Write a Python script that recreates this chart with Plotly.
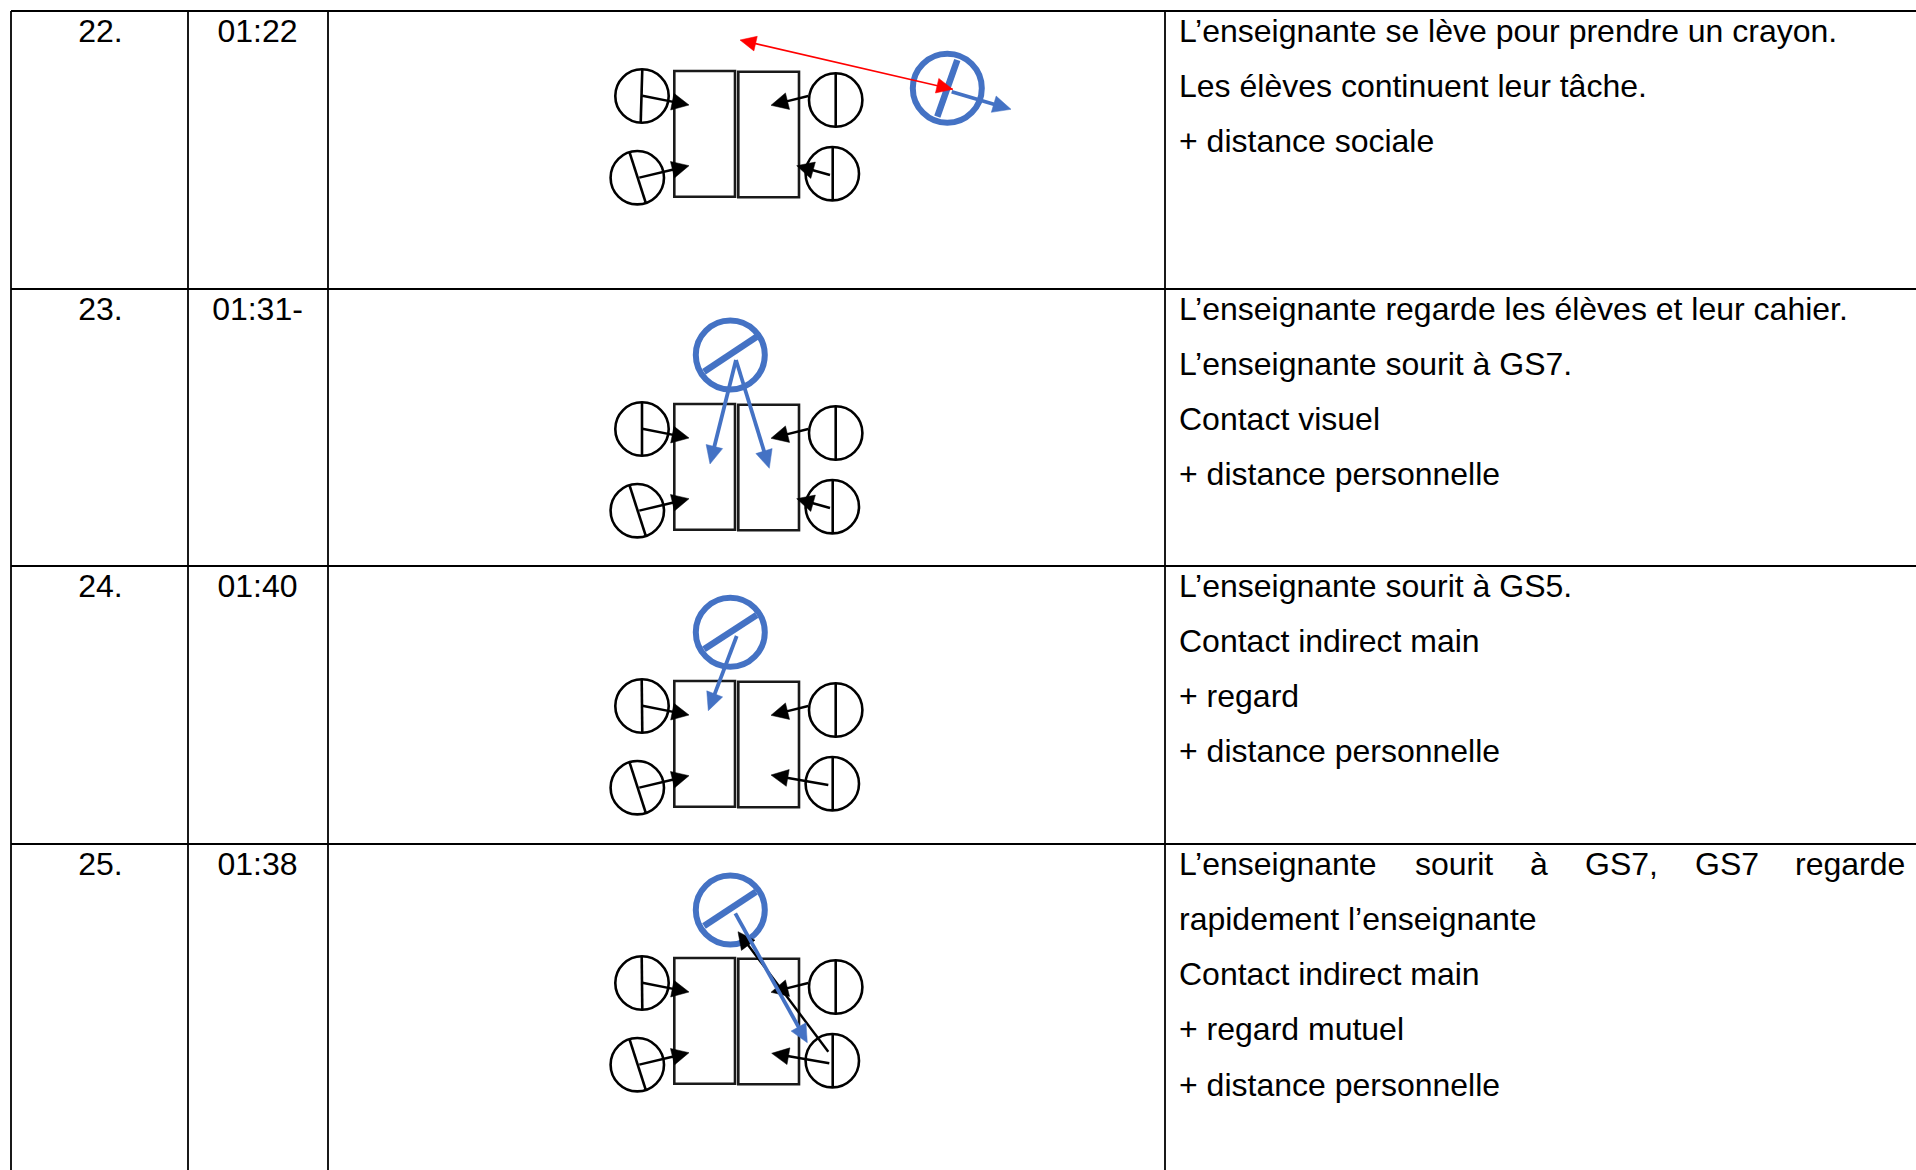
import plotly.graph_objects as go
import math

W, H = 1916, 1170
FONT = "Liberation Sans"
FS = 32
BLACK, BLUE, RED = "#000000", "#4472C4", "#FF0000"

# table structure
col_x = [11, 188, 328, 1165]
row_y = [11, 289, 566, 844]
numbers = ["22.", "01:22"], ["23.", "01:31-"], ["24.", "01:40"], ["25.", "01:38"]
col_centres = [100.5, 257.5]
text_x = 1179
line_pitch = 55.2
first_line_offset = 22.7
comments = [
    ["L’enseignante se lève pour prendre un crayon.", "Les élèves continuent leur tâche.", "+ distance sociale"],
    ["L’enseignante regarde les élèves et leur cahier.", "L’enseignante sourit à GS7.", "Contact visuel", "+ distance personnelle"],
    ["L’enseignante sourit à GS5.", "Contact indirect main", "+ regard", "+ distance personnelle"],
    ["", "rapidement l’enseignante", "Contact indirect main", "+ regard mutuel", "+ distance personnelle"],
]
justified_words = ["L’enseignante", "sourit", "à", "GS7,", "GS7", "regarde"]
justified_x = [1179, 1415, 1530, 1585, 1695, 1795]

# diagrams: offsets of each row from the first
diagram_dy = [0, 333, 610, 887]
tables = [(674.3, 71, 735, 196.7), (738.3, 71.7, 799, 197.3)]
student_r = 26.7
student_centres = [(642, 96), (637.3, 177.7), (835.7, 100), (832.3, 173.7)]
student_dividers = [
    [(642.3, 69), (640.7, 122.7)],
    [(629.3, 151.7), (645.7, 202.7)],
    [(835.7, 73.3), (835.7, 127.3)],
    [(832.7, 147), (832.7, 201)],
]
tl_divider_by_row = [(642.3, 640.7), (642, 642), (641.7, 642.3), (641.7, 642.3)]
base_arrows = [
    [(642.3, 95.7), (689, 105)],
    [(639.3, 177.7), (689, 165.7)],
    [(808.3, 96), (771, 105.3)],
]
br_arrows = [
    [(830, 175), (796.7, 165.7)],
    [(830, 175), (796.7, 165.7)],
    [(828.3, 175), (771, 165)],
    [(829.3, 176.3), (771.7, 166.3)],
]
teacher_r = 34.5
teacher_centres = [(947.3, 88.3), (730.3, 355), (730.3, 632.3), (730.3, 910)]
teacher_dividers = [
    [(957.3, 60), (937.3, 116.7)],
    [(704, 371.7), (756.7, 336.7)],
    [(704, 649.3), (756.7, 615)],
    [(704, 926), (756, 891.7)],
]
blue_arrows = [
    [[(951.7, 91.7), (1011, 109.3)]],
    [[(736, 360), (710, 464)], [(736, 360), (769.3, 468.3)]],
    [[(736.7, 636), (708.3, 710.7)]],
    [[(735.3, 913.3), (807.3, 1042.7)]],
]
red_arrow_ends = [(740, 40), (952.7, 89.3)]
mutual_arrow = [(828.3, 1051.7), (738, 931.7)]


def head(start, tip, length, width):
    a = math.atan2(tip[1] - start[1], tip[0] - start[0])
    bx, by = tip[0] - length * math.cos(a), tip[1] - length * math.sin(a)
    nx, ny = -math.sin(a) * width / 2, math.cos(a) * width / 2
    return [tip[0], bx + nx, bx - nx, tip[0]], [tip[1], by + ny, by - ny, tip[1]]


fig = go.Figure()


def seg(p, q, color, lw):
    fig.add_trace(go.Scatter(x=[p[0], q[0]], y=[p[1], q[1]], mode="lines",
                             line=dict(color=color, width=lw), hoverinfo="skip"))


def tri(start, tip, color, length, width):
    xs, ys = head(start, tip, length, width)
    fig.add_trace(go.Scatter(x=xs, y=ys, mode="lines", fill="toself", fillcolor=color,
                             line=dict(color=color, width=0.5), hoverinfo="skip"))


def arrow(start, tip, color, lw, length=17, width=17):
    a = math.atan2(tip[1] - start[1], tip[0] - start[0])
    seg(start, (tip[0] - (length - 1) * math.cos(a), tip[1] - (length - 1) * math.sin(a)), color, lw)
    tri(start, tip, color, length, width)


def shifted(p, dy):
    return (p[0], p[1] + dy)


shapes = []
# table rules
shapes.append(dict(type="line", x0=col_x[0], x1=W, y0=row_y[0], y1=row_y[0]))
for y in row_y[1:]:
    shapes.append(dict(type="line", x0=col_x[0], x1=W, y0=y, y1=y))
for x in col_x:
    shapes.append(dict(type="line", x0=x, x1=x, y0=row_y[0], y1=H))
for s in shapes:
    s["line"] = dict(color=BLACK, width=1.8)
    s["layer"] = "below"

for r, dy in enumerate(diagram_dy):
    for x0, y0, x1, y1 in tables:
        shapes.append(dict(type="rect", x0=x0, x1=x1, y0=y0 + dy, y1=y1 + dy, layer="below",
                           line=dict(color="#1a1a1a", width=2.6)))
    for cx, cy in student_centres:
        shapes.append(dict(type="circle", x0=cx - student_r, x1=cx + student_r,
                           y0=cy + dy - student_r, y1=cy + dy + student_r, layer="below",
                           line=dict(color=BLACK, width=2.6)))
    cx, cy = teacher_centres[r]
    shapes.append(dict(type="circle", x0=cx - teacher_r, x1=cx + teacher_r,
                       y0=cy - teacher_r, y1=cy + teacher_r, layer="below",
                       line=dict(color=BLUE, width=6)))
    for i, (p, q) in enumerate(student_dividers):
        if i == 0:
            p = (tl_divider_by_row[r][0], p[1])
            q = (tl_divider_by_row[r][1], q[1])
        seg(shifted(p, dy), shifted(q, dy), BLACK, 2.6)
    p, q = teacher_dividers[r]
    seg(p, q, BLUE, 6.5)
    for start, tip in base_arrows:
        arrow(shifted(start, dy), shifted(tip, dy), BLACK, 2.4)
    s, t = br_arrows[r]
    arrow(shifted(s, dy), shifted(t, dy), BLACK, 2.4)

# mutual gaze in row 25: black beneath blue
arrow(mutual_arrow[0], mutual_arrow[1], BLACK, 2.4)
for group in blue_arrows:
    for s, t in group:
        arrow(s, t, BLUE, 3.8, 18, 17)
arrow(red_arrow_ends[1], red_arrow_ends[0], RED, 1.6, 16, 15)
tri(red_arrow_ends[0], red_arrow_ends[1], RED, 16, 15)

# text
tx, ty, tt = [], [], []
for r, top in enumerate(row_y):
    y = top + first_line_offset
    for j, c in enumerate(col_centres):
        fig.add_trace(go.Scatter(x=[c], y=[y], mode="text", text=[numbers[r][j]], textposition="middle center",
                                 textfont=dict(family=FONT, size=FS, color=BLACK), hoverinfo="skip"))
    for k, line in enumerate(comments[r]):
        if line:
            tx.append(text_x)
            ty.append(y + k * line_pitch)
            tt.append(line)
for wx, w in zip(justified_x, justified_words):
    tx.append(wx)
    ty.append(row_y[3] + first_line_offset)
    tt.append(w)
fig.add_trace(go.Scatter(x=tx, y=ty, mode="text", text=tt, textposition="middle right",
                         textfont=dict(family=FONT, size=FS, color=BLACK), hoverinfo="skip"))

fig.update_layout(
    width=W, height=H, margin=dict(l=0, r=0, t=0, b=0), showlegend=False,
    plot_bgcolor="white", paper_bgcolor="white", template=None, shapes=shapes,
    xaxis=dict(range=[0, W], visible=False, fixedrange=True),
    yaxis=dict(range=[H, 0], visible=False, fixedrange=True),
)
fig.write_html("out.html", config={"displayModeBar": False},
               post_script="document.body.style.margin='0';document.body.style.overflow='hidden';")
